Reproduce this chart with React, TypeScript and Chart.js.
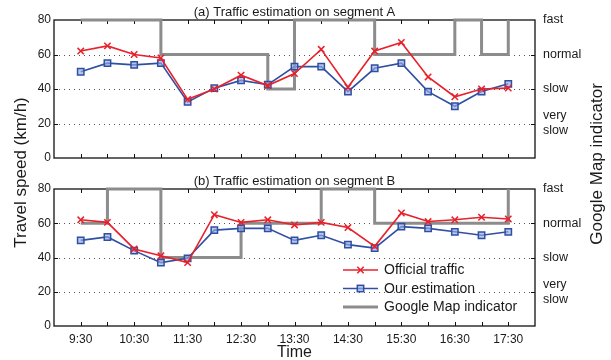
import React, { useEffect, useRef } from 'react';
import { Chart, registerables } from 'chart.js';

Chart.register(...registerables);

// ---------- data ----------
const times = ['9:30', '10:00', '10:30', '11:00', '11:30', '12:00', '12:30', '13:00', '13:30', '14:00', '14:30', '15:00', '15:30', '16:00', '16:30', '17:00', '17:30'];

const officialA = [62, 65, 60, 58, 34, 40, 48, 42, 49, 63, 41, 62, 67, 47, 35.5, 40, 40.5];
const estimationA = [50, 55, 54, 55, 32.5, 40.5, 45, 42.5, 53, 53, 38.5, 52, 55, 38.5, 30, 38.5, 43];
const googleA = [80, 80, 80, 60, 60, 60, 60, 40, 80, 80, 80, 60, 60, 60, 80, 60, 80];

const officialB = [62, 60.5, 45, 41, 37, 65, 60.5, 62, 59, 60.5, 57.5, 46.5, 66, 61, 62, 63.5, 62.5];
const estimationB = [50, 52, 44, 37, 39.5, 56, 57, 57, 50, 53, 47.5, 45.5, 58, 57, 55, 53, 55];
const googleB = [60, 80, 80, 40, 40, 40, 60, 60, 60, 80, 80, 60, 60, 60, 60, 60, 80];

const speedTicks = [0, 20, 40, 60, 80];
const indicatorValues = [20, 40, 60, 80];
const indicatorNames = ['very slow', 'slow', 'normal', 'fast'];
const seriesNames = ['Official traffic', 'Our estimation', 'Google Map indicator'];
const panelTitles = ['(a) Traffic estimation on segment A', '(b) Traffic estimation on segment B'];
const xTitle = 'Time';
const yTitle = 'Travel speed (km/h)';
const y2Title = 'Google Map indicator';

// ---------- styles ----------
const FONT = '"Liberation Sans", Arial, Helvetica, sans-serif';
const RED = '#e8212b';
const BLUE = '#2f4fa2';
const BLUE_FILL = 'rgba(150,172,228,0.65)';
const GREY = '#8c8c8c';
const TEXT = '#1a1a1a';

const panels = [
  { official: officialA, estimation: estimationA, google: googleA },
  { official: officialB, estimation: estimationB, google: googleB },
];

function drawCross(ctx: CanvasRenderingContext2D, x: number, y: number, r: number) {
  const d = r * Math.SQRT1_2;
  ctx.beginPath();
  ctx.moveTo(x - d, y - d);
  ctx.lineTo(x + d, y + d);
  ctx.moveTo(x + d, y - d);
  ctx.lineTo(x - d, y + d);
  ctx.stroke();
}

function makeConfig(idx: number): any {
  const p = panels[idx];
  const isBottom = idx === 1;

  const framePlugin = {
    id: 'frame' + idx,
    beforeDatasetsDraw(chart: any) {
      const ctx: CanvasRenderingContext2D = chart.ctx;
      const ca = chart.chartArea;
      const xs = chart.scales.x;
      const ys = chart.scales.y;
      ctx.save();
      // dotted grid
      ctx.strokeStyle = '#555';
      ctx.lineWidth = 1;
      ctx.setLineDash([1, 4]);
      speedTicks.slice(1, -1).forEach((v) => {
        const py = Math.round(ys.getPixelForValue(v)) + 0.5;
        ctx.beginPath();
        ctx.moveTo(ca.left, py);
        ctx.lineTo(ca.right, py);
        ctx.stroke();
      });
      ctx.setLineDash([]);
      // frame
      ctx.strokeStyle = '#111';
      ctx.lineWidth = 1.3;
      ctx.strokeRect(ca.left, ca.top, ca.right - ca.left, ca.bottom - ca.top);
      // inward ticks
      ctx.lineWidth = 1;
      times.forEach((_, i) => {
        const px = Math.round(xs.getPixelForValue(i)) + 0.5;
        ctx.beginPath();
        ctx.moveTo(px, ca.bottom);
        ctx.lineTo(px, ca.bottom - 4);
        ctx.moveTo(px, ca.top);
        ctx.lineTo(px, ca.top + 4);
        ctx.stroke();
      });
      speedTicks.slice(1, -1).forEach((v) => {
        const py = Math.round(ys.getPixelForValue(v)) + 0.5;
        ctx.beginPath();
        ctx.moveTo(ca.left, py);
        ctx.lineTo(ca.left + 4, py);
        ctx.moveTo(ca.right, py);
        ctx.lineTo(ca.right - 4, py);
        ctx.stroke();
      });
      ctx.restore();
    },
    afterDraw(chart: any) {
      const ctx: CanvasRenderingContext2D = chart.ctx;
      const ca = chart.chartArea;
      ctx.save();
      ctx.fillStyle = TEXT;
      ctx.font = `13px ${FONT}`;
      ctx.textAlign = 'center';
      ctx.textBaseline = 'alphabetic';
      ctx.fillText(panelTitles[idx], (ca.left + ca.right) / 2, ca.top - 4.3);

      if (isBottom) {
        // shared axis titles
        ctx.font = `16px ${FONT}`;
        ctx.fillText(xTitle, (ca.left + ca.right) / 2, 357);
        ctx.font = `17px ${FONT}`;
        ctx.textBaseline = 'middle';
        ctx.save();
        ctx.translate(21.5, 172.5);
        ctx.rotate(-Math.PI / 2);
        ctx.fillText(yTitle, 0, 0);
        ctx.restore();
        ctx.save();
        ctx.translate(597, 164);
        ctx.rotate(-Math.PI / 2);
        ctx.fillText(y2Title, 0, 0);
        ctx.restore();

        // legend
        const rows = [270, 288.5, 307];
        const x0 = 343;
        const x1 = 378;
        const xm = (x0 + x1) / 2;
        ctx.textAlign = 'left';
        ctx.textBaseline = 'middle';
        ctx.font = `14px ${FONT}`;
        // official
        ctx.strokeStyle = RED;
        ctx.lineWidth = 1.5;
        ctx.beginPath();
        ctx.moveTo(x0, rows[0]);
        ctx.lineTo(x1, rows[0]);
        ctx.stroke();
        drawCross(ctx, xm, rows[0], 4.5);
        // estimation
        ctx.strokeStyle = BLUE;
        ctx.beginPath();
        ctx.moveTo(x0, rows[1]);
        ctx.lineTo(x1, rows[1]);
        ctx.stroke();
        const s = 4.5 * Math.SQRT1_2;
        ctx.fillStyle = BLUE_FILL;
        ctx.fillRect(xm - s, rows[1] - s, 2 * s, 2 * s);
        ctx.strokeRect(xm - s, rows[1] - s, 2 * s, 2 * s);
        // google
        ctx.strokeStyle = GREY;
        ctx.lineWidth = 3;
        ctx.beginPath();
        ctx.moveTo(x0, rows[2]);
        ctx.lineTo(x1, rows[2]);
        ctx.stroke();
        ctx.fillStyle = TEXT;
        seriesNames.forEach((n, i) => ctx.fillText(n, 384, rows[i] + 0.5));
      }
      ctx.restore();
    },
  };

  return {
    type: 'line',
    data: {
      datasets: [
        {
          label: seriesNames[0],
          data: p.official.map((y, i) => ({ x: i, y })),
          borderColor: RED,
          backgroundColor: RED,
          borderWidth: 1.6,
          pointStyle: 'crossRot',
          pointRadius: 4.5,
          pointBorderWidth: 1.5,
          pointBorderColor: RED,
          tension: 0,
        },
        {
          label: seriesNames[1],
          data: p.estimation.map((y, i) => ({ x: i, y })),
          borderColor: BLUE,
          backgroundColor: BLUE_FILL,
          borderWidth: 1.6,
          pointStyle: 'rect',
          pointRadius: 4.5,
          pointBorderWidth: 1.5,
          pointBorderColor: BLUE,
          pointBackgroundColor: BLUE_FILL,
          tension: 0,
        },
        {
          label: seriesNames[2],
          data: p.google.map((y, i) => ({ x: i, y })),
          borderColor: GREY,
          borderWidth: 3,
          pointRadius: 0,
          stepped: 'before',
          clip: false,
          borderCapStyle: 'butt',
          borderJoinStyle: 'miter',
        },
      ],
    },
    options: {
      responsive: false,
      animation: false,
      devicePixelRatio: 1,
      layout: {
        padding: isBottom
          ? { top: 189, bottom: 0, left: 0, right: 0 }
          : { top: 20, bottom: 202, left: 0, right: 0 },
      },
      plugins: {
        legend: { display: false },
        tooltip: { enabled: false },
        title: { display: false },
      },
      scales: {
        x: {
          type: 'linear',
          min: -1,
          max: times.length,
          afterBuildTicks: (s: any) => {
            s.ticks = times.map((_, i) => ({ value: i })).filter((t) => t.value % 2 === 0);
          },
          ticks: {
            display: isBottom,
            autoSkip: false,
            maxRotation: 0,
            padding: 6,
            color: TEXT,
            font: { family: FONT, size: 12 },
            callback: (v: number) => times[v],
          },
          grid: { display: false, drawTicks: false },
          border: { display: false },
          afterFit: (s: any) => {
            s.height = isBottom ? 34 : 0;
          },
        },
        y: {
          position: 'left',
          min: 0,
          max: 80,
          afterBuildTicks: (s: any) => {
            s.ticks = speedTicks.map((v) => ({ value: v }));
          },
          ticks: {
            padding: 3,
            color: TEXT,
            font: { family: FONT, size: 12 },
          },
          grid: { display: false, drawTicks: false },
          border: { display: false },
          afterFit: (s: any) => {
            s.width = 54;
          },
        },
        y2: {
          position: 'right',
          min: 0,
          max: 80,
          afterBuildTicks: (s: any) => {
            s.ticks = indicatorValues.map((v) => ({ value: v }));
          },
          ticks: {
            padding: 8,
            color: TEXT,
            font: { family: FONT, size: 12.5 },
            callback: (v: number) => {
              const n = indicatorNames[indicatorValues.indexOf(v)] || '';
              return n.includes(' ') ? n.split(' ') : n;
            },
          },
          grid: { display: false, drawTicks: false },
          border: { display: false },
          afterFit: (s: any) => {
            s.width = 76;
          },
        },
      },
    },
    plugins: [framePlugin],
  };
}

export default function App() {
  const refA = useRef<HTMLCanvasElement>(null);
  const refB = useRef<HTMLCanvasElement>(null);

  useEffect(() => {
    const a = new Chart(refA.current as HTMLCanvasElement, makeConfig(0));
    const b = new Chart(refB.current as HTMLCanvasElement, makeConfig(1));
    return () => {
      a.destroy();
      b.destroy();
    };
  }, []);

  return (
    <div style={{ position: 'absolute', left: 0, top: 0, width: 611, height: 360, background: '#fff' }}>
      <canvas ref={refA} width={611} height={360} style={{ position: 'absolute', left: 0, top: 0 }} />
      <canvas ref={refB} width={611} height={360} style={{ position: 'absolute', left: 0, top: 0 }} />
    </div>
  );
}
